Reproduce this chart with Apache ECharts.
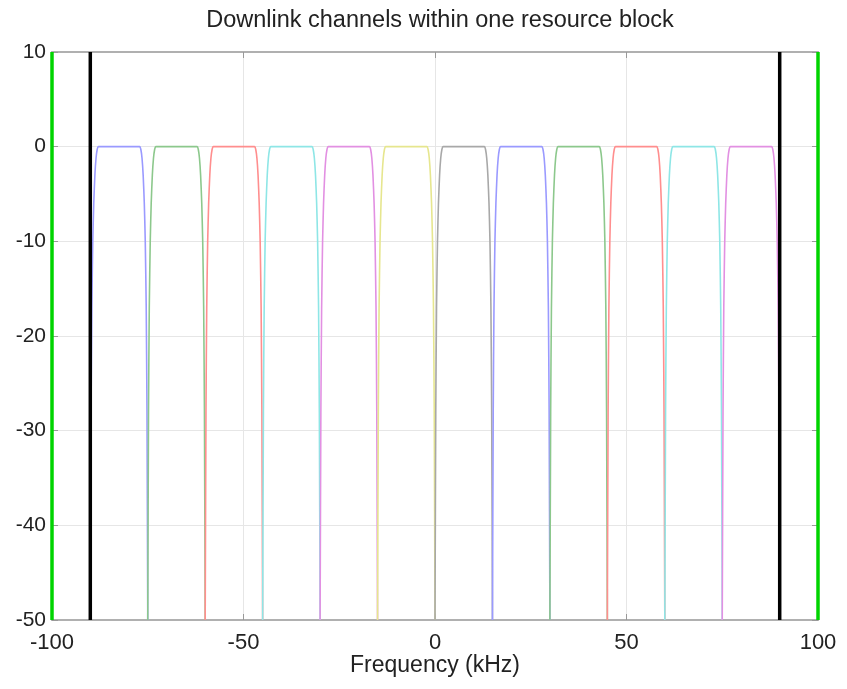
<!DOCTYPE html>
<html>
<head>
<meta charset="utf-8">
<script src="https://cdn.jsdelivr.net/npm/echarts@6/dist/echarts.min.js"></script>
<style>html,body{margin:0;padding:0;background:#fff}#c{width:847px;height:689px}</style>
</head>
<body>
<div id="c"></div>
<script>
// Channel centres (kHz), 15 kHz spacing
var channelCenters = [-82.5, -67.5, -52.5, -37.5, -22.5, -7.5, 7.5, 22.5, 37.5, 52.5, 67.5, 82.5];
var channelColors = ['#9a9aff', '#8cc88c', '#ff8e8e', '#8ee6e6', '#e290e2', '#e6e68e', '#a8a8a8', '#9a9aff', '#8cc88c', '#ff8e8e', '#8ee6e6', '#e290e2'];
// Response profile of one channel: offset from centre (kHz) and level (dB)
var profileOffsets = [-7.5, -7.3, -7.1, -6.85, -6.6, -6.3, -6.0, -5.7, -5.4, 5.4, 5.7, 6.0, 6.3, 6.6, 6.85, 7.1, 7.3, 7.5];
var profileLevels  = [-50, -28, -17, -10, -6, -3, -1.2, -0.3, 0, 0, -0.3, -1.2, -3, -6, -10, -17, -28, -50];
// Band edges (kHz) and level where the outer channels are cut off there
var bandEdges = [-90, 90];
var edgeLevels = [-12, -10];
var outerEdges = [-100, 100];
var xTicks = [-100, -50, 0, 50, 100];
var yTicks = [10, 0, -10, -20, -30, -40, -50];

var series = [];
channelCenters.forEach(function (c, i) {
  var pts = [];
  if (i === 0) pts.push([bandEdges[0], edgeLevels[0]]);
  for (var k = 0; k < profileOffsets.length; k++) {
    var x = c + profileOffsets[k];
    if (x < bandEdges[0] || x > bandEdges[1]) continue;
    pts.push([x, profileLevels[k]]);
  }
  if (i === channelCenters.length - 1) pts.push([bandEdges[1], edgeLevels[1]]);
  series.push({
    type: 'line', data: pts, symbol: 'none', smooth: 0.2, clip: true,
    lineStyle: { color: channelColors[i], width: 1.6 }, z: 3
  });
});
bandEdges.forEach(function (x) {
  series.push({ type: 'line', data: [[x, -50], [x, 10]], symbol: 'none', clip: false,
    lineStyle: { color: '#000', width: 3.5 }, z: 4 });
});
outerEdges.forEach(function (x) {
  series.push({ type: 'line', data: [[x, -50], [x, 10]], symbol: 'none', clip: false,
    lineStyle: { color: '#00d400', width: 3.5 }, z: 5 });
});

var font = 'Liberation Sans, Arial, Helvetica, sans-serif';
var frame = { show: true, onZero: false, lineStyle: { color: '#b0b0b0', width: 2 } };
var ticks = { show: true, inside: true, length: 6, lineStyle: { color: '#999' } };
var grid = { show: false, lineStyle: { color: '#e6e6e6', width: 1 } };
var chart = echarts.init(document.getElementById('c'));
chart.setOption({
  animation: false,
  backgroundColor: '#fff',
  title: {
    text: 'Downlink channels within one resource block', left: 435, top: 4, textAlign: 'center',
    textStyle: { fontFamily: font, fontSize: 23.5, fontWeight: 'normal', color: '#222' }
  },
  grid: { left: 52, right: 29, top: 52, bottom: 69 },
  xAxis: [{
    type: 'value', min: -100, max: 100, interval: 50, position: 'bottom',
    name: 'Frequency (kHz)', nameLocation: 'middle', nameGap: 34, nameMoveOverlap: false,
    nameTextStyle: { fontFamily: font, fontSize: 23, color: '#222' },
    axisLine: frame, axisTick: ticks,
    axisLabel: { fontFamily: font, fontSize: 22, color: '#222', margin: 12,
      formatter: function (v) { return xTicks.indexOf(v) >= 0 ? String(v) : ''; } },
    splitLine: { show: true, lineStyle: { color: '#e6e6e6', width: 1 } }
  }, {
    type: 'value', min: -100, max: 100, interval: 50, position: 'top',
    axisLine: frame, axisTick: ticks, axisLabel: { show: false }, splitLine: grid
  }],
  yAxis: [{
    type: 'value', min: -50, max: 10, interval: 10, position: 'left',
    axisLine: frame, axisTick: ticks,
    axisLabel: { fontFamily: font, fontSize: 21, color: '#222', margin: 6,
      formatter: function (v) { return yTicks.indexOf(v) >= 0 ? String(v) : ''; } },
    splitLine: { show: true, lineStyle: { color: '#e6e6e6', width: 1 } }
  }, {
    type: 'value', min: -50, max: 10, interval: 10, position: 'right',
    axisLine: frame, axisTick: ticks, axisLabel: { show: false }, splitLine: grid
  }],
  series: series
});
</script>
</body>
</html>
